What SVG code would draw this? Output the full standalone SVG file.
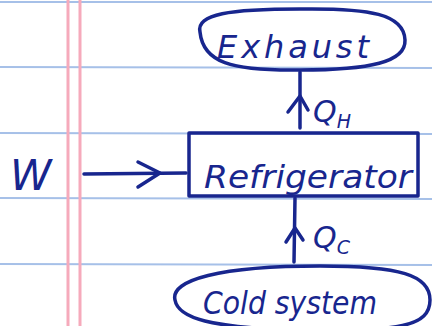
<svg xmlns="http://www.w3.org/2000/svg" width="432" height="326" viewBox="0 0 432 326">
<defs>
<style>
.rule{stroke:#a6c0e8;stroke-width:2}
.margin{stroke:#f6aabb;stroke-width:3}
.ink{fill:none;stroke:#18268e;stroke-width:3.5;stroke-linecap:round;stroke-linejoin:round}
.lbl{fill:#18268e;font-family:"DejaVu Sans",sans-serif;font-style:italic}
</style>
</defs>
<rect width="432" height="326" fill="#ffffff"/>
<g id="paper">
<line class="rule" x1="0" y1="2" x2="432" y2="2"/>
<line class="rule" x1="0" y1="67" x2="432" y2="68"/>
<line class="rule" x1="0" y1="133" x2="432" y2="134"/>
<line class="rule" x1="0" y1="198" x2="432" y2="199"/>
<line class="rule" x1="0" y1="264" x2="432" y2="265"/>
<line class="margin" x1="68" y1="0" x2="68" y2="326"/>
<line class="margin" x1="80" y1="0" x2="80" y2="326"/>
</g>
<g id="connectors">
<line class="ink" x1="300" y1="72" x2="300" y2="128"/>
<path class="ink" d="M288,112 L300,96 L308,110"/>
<line class="ink" x1="84" y1="174" x2="186" y2="173"/>
<path class="ink" d="M138,162 L160,173 L138,187"/>
<line class="ink" x1="295" y1="198" x2="294" y2="262"/>
<path class="ink" d="M286,242 L295,228 L303,240"/>
</g>
<g id="exhaust">
<path class="ink" d="M200,32 C196,14 230,9 300,9 C370,8 404,14 405,40 C406,62 370,70 300,70 C230,71 203,62 200,32 Z"/>
<text class="lbl" x="217" y="58" font-size="32" textLength="152" lengthAdjust="spacing">Exhaust</text>
</g>
<g id="refrigerator">
<rect class="ink" x="189" y="133" width="229" height="63"/>
<text class="lbl" x="204" y="188" font-size="32" textLength="208" lengthAdjust="spacingAndGlyphs">Refrigerator</text>
</g>
<g id="cold">
<path class="ink" d="M175,300 C170,280 220,266 320,266 C400,266 430,275 430,300 C430,326 400,332 300,330 C210,328 178,318 175,300 Z"/>
<text class="lbl" x="203" y="314" font-size="32" textLength="174" lengthAdjust="spacingAndGlyphs">Cold system</text>
</g>
<g id="labels">
<text class="lbl" x="10" y="190" font-size="42">W</text>
<text class="lbl" x="313" y="122" font-size="30">Q<tspan font-size="19" dy="6">H</tspan></text>
<text class="lbl" x="313" y="248" font-size="30">Q<tspan font-size="19" dy="6">C</tspan></text>
</g>
</svg>
